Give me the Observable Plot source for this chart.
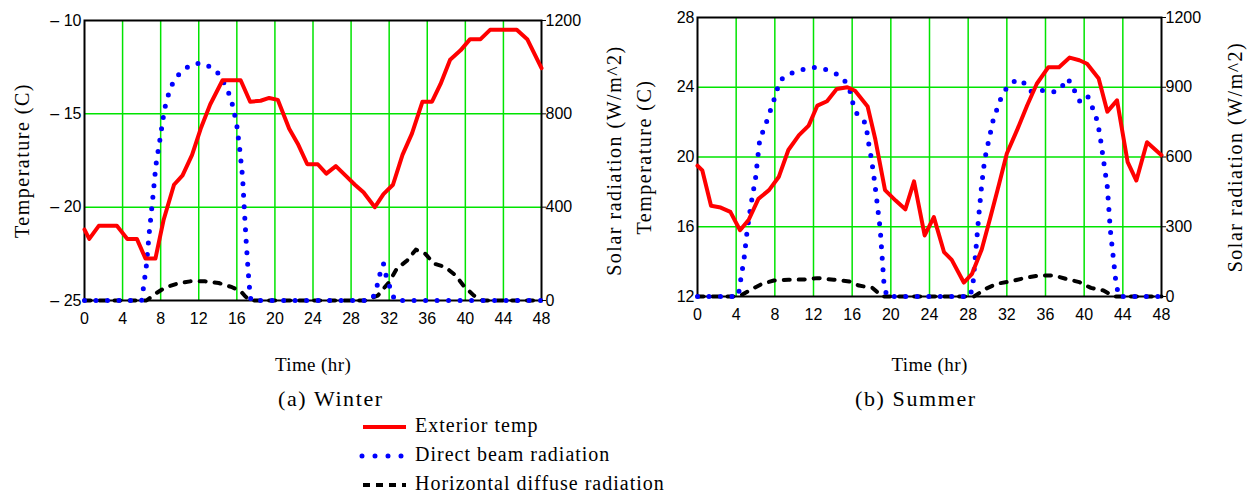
<!DOCTYPE html>
<html>
<head>
<meta charset="utf-8">
<script src="https://cdn.jsdelivr.net/npm/d3@7"></script>
<script src="https://cdn.jsdelivr.net/npm/@observablehq/plot@0.6"></script>
<style>
  html, body { margin: 0; padding: 0; background: #fff; }
  #wrap { position: relative; width: 1249px; height: 496px; overflow: hidden; background: #fff;
          font-family: "Liberation Serif", "Times New Roman", serif; color: #000; }
  .chart { position: absolute; top: 0; }
  .cap { position: absolute; font-size: 22px; line-height: 22px; letter-spacing: 1.6px; white-space: nowrap; }
  .legtext { position: absolute; left: 415px; font-size: 20px; line-height: 20px; letter-spacing: 1px; white-space: nowrap; }
  .legsw { position: absolute; left: 356px; width: 56px; height: 12px; overflow: visible; }
</style>
</head>
<body>
<div id="wrap"></div>
<script>
// ---------- data ----------
const hourTicks = [0, 4, 8, 12, 16, 20, 24, 28, 32, 36, 40, 44, 48];
const radMax = 1200;

// Winter
const winterTempTicks = [-25, -20, -15, -10];
const winterTempLabels = ["– 25", "– 20", "– 15", "– 10"];
const winterRadTicks = [0, 400, 800, 1200];
const winterRadLabels = ["0", "400", "800", "1200"];

const winterTempHours = [0, 0.5, 1.5, 3.4, 4.5, 5.5, 6.4, 7.45, 8.3, 9.4, 10.3, 11.3, 12.2, 13.2, 14.5, 16.4, 17.4, 18.5, 19.4, 20.3, 21.5, 22.4, 23.4, 24.5, 25.4, 26.4, 27.4, 28.4, 29.3, 30.5, 31.4, 32.4, 33.4, 34.4, 35.5, 36.5, 37.4, 38.4, 39.5, 40.5, 41.6, 42.6, 45.4, 46.5, 48];
const winterTemp = [-21.2, -21.7, -21.0, -21.0, -21.7, -21.7, -22.75, -22.75, -20.7, -18.8, -18.3, -17.2, -15.8, -14.5, -13.2, -13.2, -14.35, -14.3, -14.15, -14.25, -15.8, -16.6, -17.7, -17.7, -18.2, -17.8, -18.3, -18.8, -19.2, -20.0, -19.3, -18.8, -17.2, -16.05, -14.35, -14.35, -13.4, -12.1, -11.6, -11.0, -11.0, -10.5, -10.5, -11.0, -12.55];

const winterDirectHours = [0, 6.0, 6.2, 6.5, 6.8, 7.2, 7.5, 8.0, 8.4, 8.8, 9.2, 9.7, 10.4, 11.2, 12.2, 13.4, 14.1, 14.7, 15.2, 15.6, 16.0, 16.3, 16.6, 16.8, 17.0, 17.2, 17.4, 17.5, 30.0, 30.4, 30.8, 31.1, 31.4, 31.7, 32.1, 32.6, 48];
const winterDirect = [0, 0, 57, 150, 290, 450, 580, 710, 820, 880, 925, 960, 988, 1010, 1018, 998, 971, 928, 884, 831, 750, 650, 530, 380, 240, 120, 20, 0, 0, 21, 72, 126, 158, 103, 54, 0, 0];

const winterDiffuseHours = [0, 6.5, 7.45, 8.4, 9.7, 11.1, 12.7, 14.1, 15.5, 16.4, 16.9, 17.4, 29.5, 30.8, 32.0, 32.8, 33.9, 34.8, 35.8, 36.7, 37.9, 39.0, 39.8, 40.9, 41.8, 48];
const winterDiffuse = [0, 0, 29, 54, 72, 82, 82, 75, 57, 40, 17, 0, 0, 21, 79, 136, 172, 218, 200, 158, 143, 107, 64, 21, 0, 0];

// Summer
const summerTempTicks = [12, 16, 20, 24, 28];
const summerTempLabels = ["12", "16", "20", "24", "28"];
const summerRadTicks = [0, 300, 600, 900, 1200];
const summerRadLabels = ["0", "300", "600", "900", "1200"];

const summerTempHours = [0, 0.5, 1.4, 2.4, 3.4, 4.4, 5.3, 6.3, 7.4, 8.4, 9.4, 10.5, 11.5, 12.4, 13.4, 14.4, 15.5, 16.3, 17.6, 18.4, 19.4, 20.5, 21.5, 22.4, 23.5, 24.45, 25.5, 26.3, 27.55, 28.4, 29.4, 30.3, 31.2, 32.0, 33.1, 34.1, 35.1, 36.3, 37.4, 38.5, 39.5, 40.3, 41.5, 42.4, 43.4, 44.5, 45.4, 46.5, 48];
const summerTemp = [19.5, 19.23, 17.2, 17.1, 16.85, 15.8, 16.4, 17.6, 18.1, 18.85, 20.4, 21.25, 21.8, 22.95, 23.2, 23.9, 24.0, 23.8, 22.9, 21.0, 18.1, 17.5, 17.0, 18.6, 15.5, 16.55, 14.55, 14.1, 12.8, 13.3, 14.7, 16.55, 18.45, 20.2, 21.6, 22.95, 24.2, 25.15, 25.15, 25.7, 25.55, 25.35, 24.5, 22.6, 23.25, 19.7, 18.65, 20.85, 20.1];

const summerDirectHours = [0, 4.2, 4.35, 4.55, 4.8, 5.1, 5.5, 6.0, 6.45, 6.9, 7.4, 8.1, 8.5, 9.2, 10.1, 11.0, 12.1, 13.2, 14.3, 15.2, 15.8, 16.1, 16.6, 17.4, 17.7, 18.0, 18.3, 18.6, 18.9, 19.1, 19.3, 19.6, 28.2, 28.5, 28.8, 29.1, 29.4, 29.7, 30.0, 30.6, 31.0, 31.4, 32.0, 32.8, 33.6, 34.2, 34.8, 35.9, 37.0, 37.6, 38.2, 38.8, 39.2, 39.7, 40.4, 40.9, 41.3, 41.6, 42.0, 42.4, 42.7, 43.0, 43.3, 43.6, 48];
const summerDirect = [0, 0, 37, 95, 155, 270, 388, 507, 679, 722, 782, 870, 927, 952, 966, 977, 985, 977, 959, 930, 880, 827, 775, 746, 660, 590, 500, 396, 290, 170, 50, 0, 0, 55, 200, 349, 480, 586, 646, 761, 808, 854, 899, 926, 930, 887, 880, 887, 880, 894, 937, 913, 858, 833, 858, 808, 762, 703, 586, 470, 289, 172, 55, 0, 0];

const summerDiffuseHours = [0, 4.3, 5.5, 6.7, 7.9, 9.4, 11.0, 12.4, 14.1, 15.7, 16.7, 18.1, 19.1, 28.6, 29.8, 31.0, 32.4, 33.8, 35.2, 36.9, 38.1, 39.5, 40.7, 42.0, 43.1, 48];
const summerDiffuse = [0, 0, 29, 55, 69, 72, 73, 79, 72, 65, 47, 37, 0, 0, 33, 55, 65, 79, 90, 90, 76, 62, 37, 26, 0, 0];

// ---------- drawing ----------
const GRID = "#00e400";

function makeChart(o) {
  const [t0, t1] = o.tempDomain;
  const toY = r => t0 + r * (t1 - t0) / radMax;
  const temp = o.tempHours.map((h, i) => ({h, v: o.temp[i]}));
  const direct = o.directHours.map((h, i) => ({h, v: toY(o.direct[i])}));
  const diffuse = o.diffuseHours.map((h, i) => ({h, v: toY(o.diffuse[i])}));
  const radPos = o.radTicks.map(toY);
  const tempFmt = d => o.tempLabels[o.tempTicks.findIndex(t => Math.abs(t - d) < 1e-6)];
  const radFmt = d => o.radLabels[radPos.findIndex(t => Math.abs(t - d) < 1e-6)];

  const svg = Plot.plot({
    width: o.width, height: 380,
    marginLeft: o.ml, marginRight: o.mr, marginTop: o.mt, marginBottom: 380 - o.pb,
    style: {background: "transparent", overflow: "visible", fontFamily: "'Liberation Sans', Arial, sans-serif", fontSize: "16px", color: "#000"},
    x: {domain: [0, 48]},
    y: {domain: [t0, t1]},
    marks: [
      Plot.gridX(hourTicks.slice(1, -1), {stroke: GRID, strokeOpacity: 1, strokeWidth: 1.5}),
      Plot.gridY(o.tempTicks.slice(1, -1), {stroke: GRID, strokeOpacity: 1, strokeWidth: 1.5}),
      Plot.frame({stroke: "#000", strokeWidth: 2}),
      Plot.line(diffuse, {x: "h", y: "v", stroke: "#000", strokeWidth: 4, strokeDasharray: "6 9"}),
      Plot.line(direct, {x: "h", y: "v", stroke: "#0000ff", strokeWidth: 5, strokeDasharray: "0 11.5", strokeLinecap: "round"}),
      Plot.line(temp, {x: "h", y: "v", stroke: "#ff0000", strokeWidth: 4, strokeLinejoin: "round"}),
      Plot.axisX(hourTicks, {anchor: "bottom", tickSize: 0, tickPadding: 12, tickFormat: d => String(d),
        label: "Time (hr)", labelAnchor: "center", labelArrow: "none", labelOffset: o.xlo}),
      Plot.axisY(o.tempTicks, {anchor: "left", tickSize: 0, tickPadding: 3, tickFormat: tempFmt,
        label: "Temperature (C)", labelAnchor: "center", labelArrow: "none", labelOffset: o.llo}),
      Plot.axisY(radPos, {anchor: "right", tickSize: 4, tickPadding: 0, tickFormat: radFmt,
        label: "Solar radiation (W/m^2)", labelAnchor: "center", labelArrow: "none", labelOffset: o.rlo})
    ]
  });
  svg.classList.add("chart");
  svg.style.left = o.left + "px";
  d3.select(svg).selectAll('[aria-label="y-axis label"] text')
    .style("font-family", "'Liberation Serif', 'Times New Roman', serif")
    .style("font-size", "20px").style("letter-spacing", "1.5px");
  d3.select(svg).selectAll('[aria-label="x-axis label"] text')
    .style("font-family", "'Liberation Serif', 'Times New Roman', serif")
    .style("font-size", "19px").style("letter-spacing", "0.4px");
  return svg;
}

const wrap = document.getElementById("wrap");

wrap.appendChild(makeChart({
  left: 0, width: 625, ml: 84, mr: 84, mt: 20, pb: 300,
  tempDomain: [-25, -10], tempTicks: winterTempTicks, tempLabels: winterTempLabels,
  radTicks: winterRadTicks, radLabels: winterRadLabels,
  tempHours: winterTempHours, temp: winterTemp,
  directHours: winterDirectHours, direct: winterDirect,
  diffuseHours: winterDiffuseHours, diffuse: winterDiffuse,
  xlo: 70, llo: 70, rlo: 79
}));

wrap.appendChild(makeChart({
  left: 625, width: 624, ml: 72, mr: 88, mt: 17, pb: 296,
  tempDomain: [12, 28], tempTicks: summerTempTicks, tempLabels: summerTempLabels,
  radTicks: summerRadTicks, radLabels: summerRadLabels,
  tempHours: summerTempHours, temp: summerTemp,
  directHours: summerDirectHours, direct: summerDirect,
  diffuseHours: summerDiffuseHours, diffuse: summerDiffuse,
  xlo: 74, llo: 61, rlo: 80
}));

// captions
function addCap(text, x, top) {
  const d = document.createElement("div");
  d.className = "cap"; d.textContent = text;
  d.style.left = x + "px"; d.style.top = top + "px";
  wrap.appendChild(d);
}
addCap("(a) Winter", 278, 388);
addCap("(b) Summer", 855, 388);

// legend
const legendNames = ["Exterior temp", "Direct beam radiation", "Horizontal diffuse radiation"];
const legendStyles = [
  {stroke: "#ff0000", width: 4, dash: null, cap: "butt"},
  {stroke: "#0000ff", width: 5, dash: "0 13", cap: "round"},
  {stroke: "#000", width: 4, dash: "7 6", cap: "butt"}
];
const legendBaselines = [432, 461, 490];
legendNames.forEach((name, i) => {
  const st = legendStyles[i];
  const y = legendBaselines[i] - 5.5;
  const s = d3.create("svg").attr("class", "legsw").attr("width", 56).attr("height", 12)
    .style("top", (y - 6) + "px");
  const ln = s.append("line").attr("x1", st.dash === "0 13" ? 6 : 7).attr("x2", 50).attr("y1", 6).attr("y2", 6)
    .attr("stroke", st.stroke).attr("stroke-width", st.width).attr("stroke-linecap", st.cap);
  if (st.dash) ln.attr("stroke-dasharray", st.dash);
  wrap.appendChild(s.node());
  const t = document.createElement("div");
  t.className = "legtext"; t.textContent = name;
  t.style.top = (legendBaselines[i] - 17) + "px";
  wrap.appendChild(t);
});
</script>
</body>
</html>
